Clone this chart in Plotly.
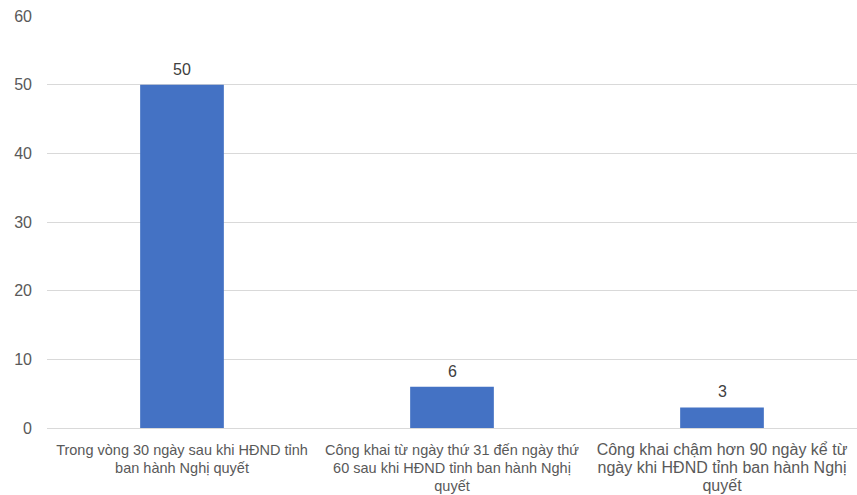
import plotly.graph_objects as go

categories = [
    "Trong vòng 30 ngày sau khi HĐND tỉnh<br>ban hành Nghị quyết",
    "Công khai từ ngày thứ 31 đến ngày thứ<br>60 sau khi HĐND tỉnh ban hành Nghị<br>quyết",
    "Công khai chậm hơn 90 ngày kể từ<br>ngày khi HĐND tỉnh ban hành Nghị<br>quyết",
]
label_sizes = [14.5, 14.5, 16]
values = [50, 6, 3]
y_ticks = [0, 10, 20, 30, 40, 50, 60]

positions = list(range(len(categories)))
tick_text = [
    f'<span style="font-size:{s}px">{c}</span>' for c, s in zip(categories, label_sizes)
]

fig = go.Figure(
    go.Bar(
        x=positions,
        y=values,
        marker=dict(color="#4472C4", line=dict(width=0)),
        width=0.31,
        hoverinfo="x+y",
    )
)

# value labels above each bar
for p, v in zip(positions, values):
    fig.add_annotation(
        x=p,
        y=v,
        text=str(v),
        showarrow=False,
        yanchor="bottom",
        yshift=5,
        font=dict(size=16, color="#404040"),
    )

fig.update_layout(
    width=857,
    height=495,
    margin=dict(l=47, r=0, t=16, b=67),
    paper_bgcolor="white",
    plot_bgcolor="white",
    font=dict(family="Liberation Sans, Arial, sans-serif", color="#595959"),
    showlegend=False,
)

fig.update_xaxes(
    tickmode="array",
    tickvals=positions,
    ticktext=tick_text,
    range=[-0.5, 2.5],
    showgrid=False,
    showline=True,
    linecolor="#D9D9D9",
    linewidth=1,
    ticks="",
    tickfont=dict(size=14, color="#595959"),
    ticklabelstandoff=9,
)

fig.update_yaxes(
    range=[0, 60],
    tickvals=y_ticks,
    showgrid=True,
    gridcolor="#D9D9D9",
    gridwidth=1,
    zeroline=False,
    showline=False,
    ticks="",
    tickfont=dict(size=16, color="#595959"),
    ticklabelstandoff=14,
)

fig.write_html("out.html")
